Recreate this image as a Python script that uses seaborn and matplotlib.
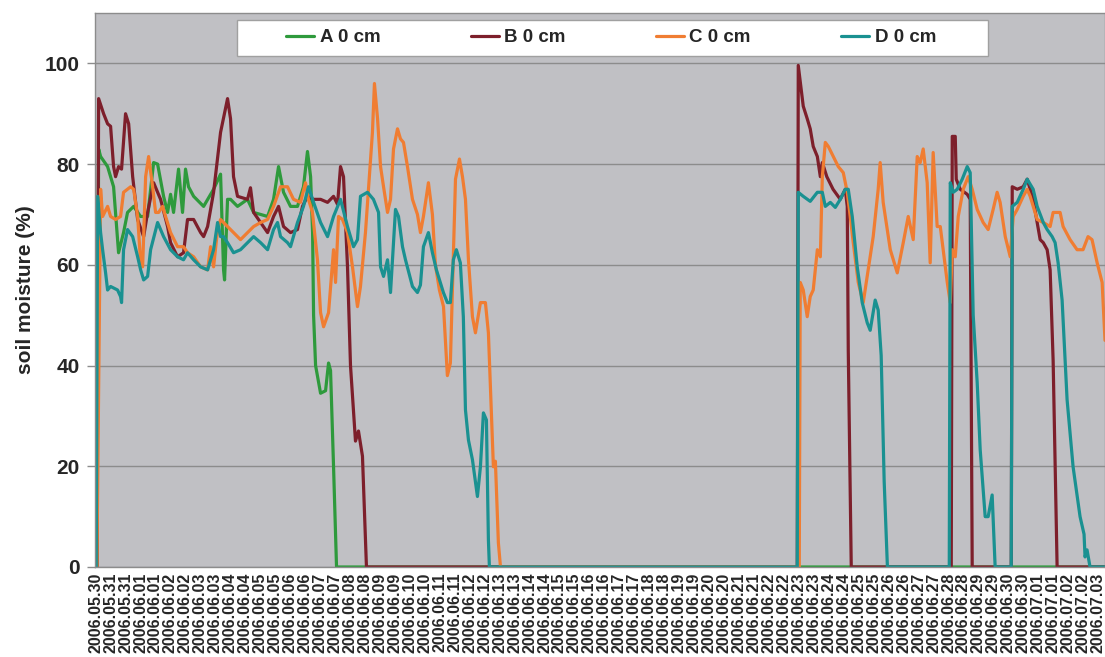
import numpy as np
import pandas as pd
import matplotlib.pyplot as plt
import seaborn as sns
from matplotlib.patches import Rectangle

# x = hours since first logger reading (hourly values), y = soil moisture in %
a_hours = [1.0, 2.4, 4.0, 9.6, 14.4, 17.6, 18.4, 22.4, 25.6, 30.5, 36.0, 41.7, 46.5, 49.7,
           54.5, 57.7, 60.1, 62.5, 66.5, 69.7, 72.1, 74.5, 78.6, 86.6, 94.6, 100.2, 102.6,
           103.4, 105.8, 108.2, 113.8, 121.8, 126.7, 137.9, 142.7, 146.7, 150.7, 156.3,
           161.9, 166.7, 169.9, 172.4, 174.0, 174.8, 176.4, 180.4, 184.4, 186.8, 188.4,
           190.8, 193.2, 809.5]
a_moist = [0, 83, 81.5, 79.5, 75.5, 65, 62.4, 66.4, 70.4, 71.6, 69.6, 69.6, 80.3, 80,
           73.6, 70.4, 74, 70.4, 79, 70.4, 79, 75.5, 73.6, 71.6, 75, 78, 59,
           57, 73, 73, 71.6, 73, 70.4, 69.6, 73, 79.5, 74.4, 71.6,
           71.6, 75.5, 82.5, 77.5, 66.4, 50, 40, 34.5, 35, 40.5, 39,
           20, 0, 0]

b_hours = [1.0, 2.4, 6.4, 9.6, 12.0, 14.4, 16.0, 18.4, 20.8, 24.0, 26.5, 29.7, 33.7, 38.5,
           41.7, 46.5, 52.1, 57.7, 60.1, 65.7, 70.5, 73.7, 78.6, 84.2, 86.6, 89.8, 94.6,
           100.2, 105.8, 108.2, 110.6, 113.8, 121.8, 124.2, 126.7, 132.3, 137.9, 142.7,
           146.7, 150.7, 156.3, 161.9, 165.9, 169.9, 174.8, 180.4, 186.0, 190.8, 194.0,
           196.4, 198.8, 202.0, 204.4, 208.4, 210.8, 214.0, 217.2,
           562.7, 563.5, 567.5, 570.7, 573.1, 575.5, 578.8, 581.2, 582.8, 586.4, 591.4,
           597.2, 601.2, 602.8, 603.6, 606.0,
           686.2, 687.0, 689.4, 690.2, 693.4, 699.0, 701.4, 703.0,
           734.3, 735.1, 739.1, 743.9, 747.1, 749.5, 751.9, 755.1, 757.5, 760.0, 763.1,
           765.5, 767.9, 771.1, 809.5]
b_moist = [0, 93, 90, 88, 87.5, 79.5, 77.5, 79.5, 79, 90, 88, 77.5, 69, 65.6,
           70.4, 76.3, 73, 67.6, 64.4, 61.6, 62.4, 69, 69, 66.4, 65.6, 67.6, 74.4,
           86.3, 93, 89, 77.5, 73.6, 73, 75.3, 70.4, 68.4, 66.4, 69.6,
           71.6, 67.6, 66.4, 67, 71.6, 73.6, 73, 73, 72.4, 73.6, 72,
           79.5, 77.5, 59.6, 40, 25, 27, 22, 0,
           0, 99.6, 91.5, 89, 87, 83.5, 81.5, 77.5, 80.3, 77.5, 75,
           73, 75, 71.6, 43, 0,
           0, 85.5, 85.5, 77, 75, 74, 73, 0,
           0, 75.5, 75, 75.5, 77, 75, 73, 68.4, 65, 64.4, 63,
           59, 41, 0, 0]

c_hours = [1.0, 4.0, 5.6, 9.6, 12.0, 16.0, 20.0, 22.4, 28.1, 30.5, 33.7, 36.1, 37.7, 40.1,
           42.5, 45.7, 48.1, 50.5, 53.7, 56.1, 60.1, 65.7, 70.5, 73.7, 78.6, 84.2, 89.8,
           92.2, 94.6, 97.8, 100.2, 105.8, 110.6, 116.2, 121.8, 126.7, 132.3, 137.9,
           142.7, 148.3, 153.9, 158.7, 164.3, 168.3, 170.7, 173.9, 177.9, 180.4, 182.8,
           186.8, 190.8, 192.4, 194.8, 198.0, 202.0, 206.0, 210.0, 212.4, 216.4, 218.8,
           222.0, 223.6, 226.1, 228.5, 230.9, 234.1, 236.5, 238.9, 242.1, 244.5, 246.9,
           250.1, 254.1, 258.1, 260.5, 262.9, 266.9, 270.1, 272.5, 275.7, 279.0, 282.1,
           284.5, 288.6, 291.8, 294.2, 296.6, 299.0, 302.2, 304.6, 308.6, 312.6, 315.0,
           319.0, 320.6, 323.0, 324.7,
           564.3, 565.1, 567.5, 570.7, 573.1, 575.5, 578.8, 581.2, 582.8, 585.2, 587.6,
           591.6, 595.6, 599.6, 602.8, 605.2, 607.6, 611.6, 615.6, 618.8, 623.6, 627.6,
           629.2, 631.6, 637.3, 642.9, 647.7, 651.7, 655.7, 658.9, 661.3, 663.7, 666.9,
           669.3, 671.7, 674.9, 677.4, 683.0, 685.4, 687.0, 689.4, 691.8, 695.8, 699.8,
           703.0, 707.0, 711.8, 715.8, 719.8, 723.0, 725.4, 729.5, 733.5, 735.9, 739.1,
           743.9, 747.1, 749.5, 755.1, 760.0, 765.5, 767.9, 773.5, 775.9, 781.5, 787.1,
           791.9, 795.9, 799.1, 803.2, 807.2, 809.5]
c_moist = [0, 75, 69.6, 71.6, 69.6, 69, 69.6, 74.4, 75.5, 75, 69.6, 60.4, 59.6, 77.5,
           81.5, 75.5, 70.4, 70.4, 71.6, 69.6, 66.4, 63.6, 63.6, 62.4, 61.6, 59.6, 59,
           63.6, 59.6, 67, 69, 67.6, 66.4, 65, 66.4, 67.6, 68.4, 69,
           71.6, 75.5, 75.5, 73, 72.4, 76.3, 73, 70.4, 61, 50.5, 47.7,
           50.5, 63, 56.5, 69.6, 69, 66.4, 59.6, 51.7, 55.7, 66.4, 75,
           86.3, 96, 89, 79.5, 75.5, 70.4, 73, 83, 87, 85, 84.3,
           79.5, 73, 70, 66.4, 69.6, 76.3, 70, 60, 55, 51.7, 38,
           40.5, 77, 81, 77.5, 73, 61, 49.7, 46.5, 52.5, 52.5, 46.5,
           19.9, 21, 4.8, 0,
           0, 56.5, 55, 49.7, 53.7, 55, 63, 61.6, 77.5, 84.3, 83.5,
           81.5, 79.5, 78.3, 74.4, 69.6, 64.4, 56.5, 52.5, 57.7, 65.6, 75,
           80.3, 72.4, 63, 58.4, 64.4, 69.6, 65, 81.5, 80.3, 83, 76.3,
           60.4, 82.3, 67.6, 67.6, 56.5, 52.5, 63, 61.6, 69.6, 75, 77.5,
           75, 71, 68.4, 67, 71, 74.4, 72.4, 65.6, 61.6, 69.6, 71,
           73.6, 75, 73.6, 69, 68.4, 67.6, 70.4, 70.4, 67.6, 65, 63,
           63, 65.6, 65, 60.4, 56.5, 45]

d_hours = [0.5, 1.6, 4.0, 5.6, 8.0, 9.6, 12.0, 17.6, 20.0, 20.8, 22.4, 25.6, 29.7, 33.7,
           36.1, 38.5, 41.7, 44.1, 49.7, 54.5, 60.1, 65.7, 70.5, 73.7, 78.6, 84.2, 89.8,
           94.6, 97.8, 100.2, 102.6, 105.8, 110.6, 116.2, 121.8, 126.7, 132.3, 137.9,
           142.7, 145.9, 148.3, 153.9, 156.3, 161.9, 166.7, 170.7, 174.8, 180.4, 186.0,
           190.8, 196.4, 202.0, 206.8, 210.0, 212.4, 218.0, 222.8, 226.9, 228.5, 230.9,
           234.1, 236.5, 240.5, 242.9, 246.1, 248.5, 254.1, 258.1, 260.5, 262.9, 266.9,
           270.1, 273.3, 278.9, 282.1, 284.5, 286.9, 289.3, 292.5, 294.9, 296.6, 299.0,
           302.2, 306.2, 308.6, 311.0, 313.4, 315.0, 315.8,
           562.7, 563.5, 567.5, 573.1, 578.8, 582.8, 585.2, 589.2, 593.2, 597.2, 601.2,
           603.6, 606.8, 610.8, 614.8, 618.8, 621.2, 625.2, 627.6, 630.0, 632.4, 635.0,
           684.6, 685.4, 687.8, 691.0, 695.0, 699.0, 701.4, 703.8, 707.0, 709.4, 713.4,
           715.8, 719.0, 721.4,
           734.3, 735.1, 739.1, 743.9, 747.1, 751.9, 755.1, 760.0, 763.1, 767.1, 769.5,
           771.9, 775.1, 779.1, 783.9, 789.5, 792.7, 793.5, 795.1, 797.5, 809.5]
d_moist = [0, 73.6, 66.4, 63, 58.4, 55, 55.7, 55, 53.7, 52.5, 63, 67, 65.6, 61.6,
           59, 57, 57.7, 63, 68.4, 65.6, 63, 61.6, 61, 62.4, 61, 59.6, 59,
           63, 68.4, 65.6, 65.6, 64.4, 62.4, 63, 64.4, 65.6, 64.4, 63,
           67, 68.4, 65.6, 64.4, 63.6, 68.4, 71.6, 75.5, 72.4, 68.4, 65.6,
           69.6, 73, 67.6, 63.6, 65, 73.6, 74.4, 73, 70.4, 59.6, 57.7,
           61, 54.5, 71, 69.6, 63.6, 61, 55.7, 54.5, 56, 63.6, 66.4,
           62.4, 59, 54.5, 52.5, 52.5, 61, 63, 60.4, 49.7, 31.2, 25.2,
           21.3, 14, 19.9, 30.6, 29.2, 5.4, 0,
           0, 74.4, 73.6, 72.6, 74.4, 74.4, 71.6, 72.4, 71.4, 73, 75,
           75, 69.6, 59.6, 52.5, 48.5, 47, 53, 51, 42, 17, 0,
           0, 76.3, 74.4, 75, 77, 79.5, 78.3, 50, 36.6, 23.3, 10,
           10, 14.3, 0,
           0, 71.6, 72.4, 75, 77, 75, 71.6, 68.4, 67, 65.6, 64.4,
           60.4, 53, 33.2, 19.9, 10, 6.5, 2, 3.4, 0, 0]

series_names = ["A 0 cm", "B 0 cm", "C 0 cm", "D 0 cm"]
series_colors = ["#2E9A3C", "#7D1F2B", "#F07D32", "#1A9191"]

# category labels, one every 12 readings
xtick_labels = ["2006.05.30",
    "2006.05.31", "2006.05.31", "2006.06.01", "2006.06.01", "2006.06.02", "2006.06.02",
    "2006.06.03", "2006.06.03", "2006.06.04", "2006.06.04", "2006.06.05", "2006.06.05",
    "2006.06.06", "2006.06.06", "2006.06.07", "2006.06.07", "2006.06.08", "2006.06.08",
    "2006.06.09", "2006.06.09", "2006.06.10", "2006.06.10", "2006.06.11", "2006.06.11",
    "2006.06.12", "2006.06.12", "2006.06.13", "2006.06.13", "2006.06.14", "2006.06.14",
    "2006.06.15", "2006.06.15", "2006.06.16", "2006.06.16", "2006.06.17", "2006.06.17",
    "2006.06.18", "2006.06.18", "2006.06.19", "2006.06.19", "2006.06.20", "2006.06.20",
    "2006.06.21", "2006.06.21", "2006.06.22", "2006.06.22", "2006.06.23", "2006.06.23",
    "2006.06.24", "2006.06.24", "2006.06.25", "2006.06.25", "2006.06.26", "2006.06.26",
    "2006.06.27", "2006.06.27", "2006.06.28", "2006.06.28", "2006.06.29", "2006.06.29",
    "2006.06.30", "2006.06.30", "2006.07.01", "2006.07.01", "2006.07.02", "2006.07.02",
    "2006.07.03"]
yticks = [0, 20, 40, 60, 80, 100]

# long table for seaborn
frames = []
for name, hrs, vals in zip(series_names, [a_hours, b_hours, c_hours, d_hours],
                           [a_moist, b_moist, c_moist, d_moist]):
    frames.append(pd.DataFrame({"hour": hrs, "moisture": vals, "series": name}))
df = pd.concat(frames, ignore_index=True)

sns.set_style("white")
plt.rcParams["font.family"] = ["Liberation Sans", "DejaVu Sans"]
plt.rcParams["font.weight"] = "bold"

fig = plt.figure(figsize=(11.05, 6.57), dpi=100)
ax = fig.add_axes([95 / 1105, 1 - 567 / 657, 1010 / 1105, 554 / 657])
ax.set_facecolor("#C0C0C4")

sns.lineplot(data=df, x="hour", y="moisture", hue="series", hue_order=series_names,
             palette=series_colors, sort=False, estimator=None, linewidth=2.3, ax=ax)

# axes
ax.set_xlim(-0.5, 809.5)
ax.set_ylim(0, 110)
ax.set_yticks(yticks)
ax.set_yticklabels([str(v) for v in yticks], fontsize=15, fontweight="bold")
ax.set_xticks(np.arange(len(xtick_labels)) * 12)
ax.set_xticklabels(xtick_labels, rotation=90, fontsize=11.5, fontweight="bold")
ax.set_xticks(np.arange(0, 17) * 50 - 0.5, minor=True)
ax.tick_params(axis="x", which="major", length=0, pad=4)
ax.tick_params(axis="x", which="minor", length=5, width=1, color="#8C8C8C", direction="out")
ax.tick_params(axis="y", length=6, width=1, color="#8C8C8C", direction="out", pad=5, left=True)
ax.set_xlabel("")
ax.set_ylabel("soil moisture (%)", fontsize=15, fontweight="bold", labelpad=7)

ax.grid(axis="y", color="#8C8C8C", linewidth=1)
ax.grid(axis="x", visible=False)
ax.set_axisbelow(True)
for s in ax.spines.values():
    s.set_color("#8C8C8C")
    s.set_linewidth(1)

# legend in a white box at the top
leg = ax.get_legend()
handles = leg.legend_handles
leg.remove()
for h in handles:
    h.set_linewidth(2.3)
ax.add_patch(Rectangle((0.1406, 0.922), 0.7436, 0.065, transform=ax.transAxes,
                       facecolor="white", edgecolor="#A0A0A0", linewidth=1, zorder=4))
ax.legend(handles, series_names, loc="center", bbox_to_anchor=(0.511, 0.955), ncol=4,
          frameon=False, prop={"weight": "bold", "size": 13.5}, handlelength=1.5,
          handletextpad=0.3, columnspacing=4.8)

fig.savefig("out.png", dpi=100)
